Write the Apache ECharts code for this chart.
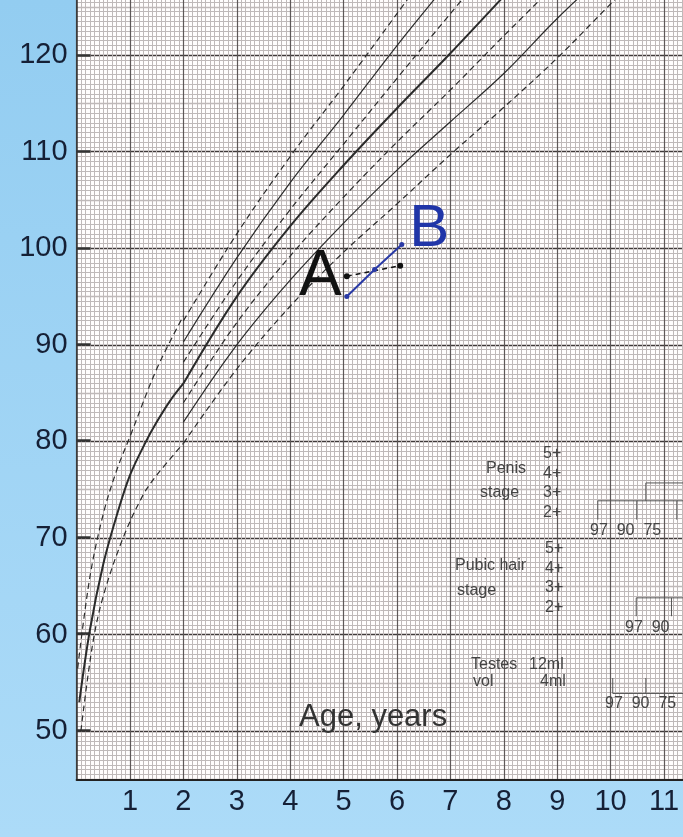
<!DOCTYPE html>
<html>
<head>
<meta charset="utf-8">
<script src="https://cdn.jsdelivr.net/npm/echarts@6/dist/echarts.min.js"></script>
<style>
html, body { margin: 0; padding: 0; }
#chart { width: 683px; height: 837px; }
</style>
</head>
<body>
<div id="chart"></div>
<script>
// length curves, birth to 2 years (age, cm)
var len97 = [[0.02, 56.5], [0.25, 66], [0.5, 72.5], [0.75, 77], [1, 80.5], [1.5, 87.5], [2, 93]];
var len50 = [[0.05, 53], [0.25, 60.5], [0.5, 67.3], [0.75, 72.3], [1, 76.5], [1.3, 80], [1.5, 82], [1.75, 84.2], [2, 86]];
var len3 = [[0.08, 50], [0.3, 59], [0.5, 64], [0.87, 70], [1.25, 74.5], [1.5, 76.5], [2, 79.8]];

// height curves from 2 years
var ht97 = [[2, 92.5], [3, 101.5], [4, 109.5], [5, 116.8], [6, 124.3], [6.4, 127.3]];
var ht90 = [[2, 90.3], [3, 99], [4, 106.8], [5, 113.8], [6, 121], [7, 127.8]];
var ht75 = [[2, 88.2], [3, 96.6], [4, 104], [5, 110.8], [6, 117.6], [7, 124.3], [7.5, 127.6]];
var ht50 = [[2, 86], [3, 95], [4, 102.3], [5, 108.6], [6, 114.5], [7, 120.2], [8, 126.1], [8.3, 127.9]];
var ht25 = [[2, 84], [3, 92.3], [4, 99.2], [5, 105.3], [6, 111], [7, 116.4], [8, 122], [9, 127.5]];
var ht10 = [[2, 82], [3, 90], [4, 96.7], [5, 102.6], [6, 108.1], [7, 113.1], [8, 118.1], [9, 123.8], [10, 129]];
var ht3 = [[2, 79.8], [3, 87.5], [4, 94], [5, 99.6], [6, 104.6], [7, 109.7], [8, 114.6], [9, 119.7], [10, 125.3], [10.5, 128]];

// the child's measurements
var measuredA = [[5.06, 97.1], [6.06, 98.2]];
var measuredB = [[5.06, 95.0], [5.58, 97.8], [6.09, 100.4]];

// puberty staging bars
var penisBar = [[9.76, 71.9], [9.76, 73.85], [12, 73.85]];
var penisBar2 = [[10.49, 71.9], [10.49, 73.85]];
var penisBar3 = [[11.24, 71.9], [11.24, 73.85]];
var penisBarUp = [[10.66, 73.85], [10.66, 75.7], [12, 75.7]];
var pubicBar = [[10.48, 61.9], [10.48, 63.8], [12, 63.8]];
var pubicBar2 = [[11.14, 61.9], [11.14, 63.8]];
var testesBar = [[10.04, 55.5], [10.04, 53.9], [12, 53.9]];
var testesBar2 = [[10.66, 55.5], [10.66, 53.9]];

var yTickLabels = [50, 60, 70, 80, 90, 100, 110, 120];
var xTickLabels = [1, 2, 3, 4, 5, 6, 7, 8, 9, 10, 11];

var ink = '#2b2b2b';
var note = '#444';
var font = 'Liberation Sans, Arial, sans-serif';
var minorGrid = '#bfb9b9';

function curve(data, dashed, width) {
  return {
    type: 'line',
    data: data,
    smooth: 0.35,
    showSymbol: false,
    silent: true,
    lineStyle: {
      color: ink,
      width: width || 1.2,
      type: dashed ? [6, 4] : 'solid'
    },
    z: 5
  };
}

function bar(data) {
  return {
    type: 'line',
    data: data,
    showSymbol: false,
    silent: true,
    lineStyle: { color: '#555', width: 1 },
    z: 4
  };
}

function note16(x, y, text) {
  return { type: 'text', left: x, top: y, z: 10, style: { text: text, font: '16px ' + font, fill: note, lineHeight: 19.5 } };
}

var myChart = echarts.init(document.getElementById('chart'));

var option = {
  backgroundColor: {
    type: 'linear', x: 0, y: 0, x2: 0, y2: 1,
    colorStops: [{ offset: 0, color: '#93cdf1' }, { offset: 1, color: '#acdbf8' }]
  },
  animation: false,
  grid: [{
    left: 76.6, right: -34.4, top: -41.4, bottom: 57.6,
    show: true, backgroundColor: '#fffdfd', borderWidth: 0,
    outerBoundsMode: 'none'
  }, {
    left: 76.6, right: -34.4, top: -41.4, bottom: 107,
    outerBoundsMode: 'none'
  }],
  xAxis: [{
    type: 'value', gridIndex: 0, min: 0, max: 12, interval: 1,
    axisLine: { show: true, onZero: false, lineStyle: { color: '#222', width: 2 } },
    axisTick: { show: false },
    axisLabel: {
      margin: 8, fontSize: 29, color: '#152036', fontFamily: font,
      formatter: function (v) { return xTickLabels.indexOf(v) >= 0 ? String(v) : ''; }
    },
    splitLine: { show: true, lineStyle: { color: '#5e5858', width: 1.2 } },
    minorTick: { show: false, splitNumber: 12 },
    minorSplitLine: { show: true, lineStyle: { color: minorGrid, width: 1 } }
  }, {
    type: 'value', gridIndex: 1, min: 0, max: 12, show: false
  }],
  yAxis: [{
    type: 'value', gridIndex: 0, min: 45, max: 130, interval: 5,
    axisLine: { show: true, lineStyle: { color: '#333', width: 1.5 } },
    axisTick: { show: false },
    axisLabel: {
      margin: 9, fontSize: 29, color: '#152036', fontFamily: font,
      formatter: function (v) { return yTickLabels.indexOf(v) >= 0 ? String(v) : ''; }
    },
    splitLine: { show: true, lineStyle: { color: [minorGrid, '#403a3a'], width: 1.3 } },
    minorTick: { show: false, splitNumber: 10 },
    minorSplitLine: { show: true, lineStyle: { color: minorGrid, width: 1 } }
  }, {
    type: 'value', gridIndex: 1, min: 50, max: 130, interval: 10,
    axisLine: { show: false },
    axisTick: { show: true, inside: true, length: 14, lineStyle: { color: '#333', width: 2.5 } },
    axisLabel: { show: false },
    splitLine: { show: false }
  }],
  series: [
    curve(len97, true), curve(len50, false, 2), curve(len3, true),
    curve(ht97, true), curve(ht90, false), curve(ht75, true), curve(ht50, false, 2),
    curve(ht25, true), curve(ht10, false), curve(ht3, true),
    bar(penisBar), bar(penisBar2), bar(penisBar3), bar(penisBarUp),
    bar(pubicBar), bar(pubicBar2), bar(testesBar), bar(testesBar2),
    {
      type: 'line', data: measuredA, silent: true, z: 8,
      lineStyle: { color: '#111', width: 1.5, type: [5, 4] },
      symbol: 'circle', symbolSize: 6, itemStyle: { color: '#111' },
      label: {
        show: true, fontSize: 64, fontFamily: font, color: '#111',
        formatter: function (p) { return p.dataIndex === 0 ? 'A' : ''; },
        position: 'left', distance: 2, offset: [0, 1]
      }
    },
    {
      type: 'line', data: measuredB, silent: true, z: 9,
      lineStyle: { color: '#2a3aa6', width: 2 },
      symbol: 'circle', symbolSize: 5, itemStyle: { color: '#2a3aa6' },
      label: {
        show: true, fontSize: 60, fontFamily: font, color: '#2035a8',
        formatter: function (p) { return p.dataIndex === 2 ? 'B' : ''; },
        position: 'right', distance: 5, offset: [0, -15]
      }
    }
  ],
  graphic: [
    { type: 'text', left: 299, top: 702, z: 10, style: { text: 'Age, years', font: '31px ' + font, fill: '#333' } },
    note16(486, 459, 'Penis'),
    note16(480, 483, 'stage'),
    note16(543, 444, '5+\n4+\n3+\n2+'),
    note16(455, 556, 'Pubic hair'),
    note16(457, 581, 'stage'),
    note16(545, 539, '5+\n4+\n3+\n2+'),
    note16(471, 655, 'Testes'),
    note16(473, 672, 'vol'),
    note16(529, 655, '12ml'),
    note16(540, 672, '4ml'),
    note16(590, 521, '97  90  75'),
    note16(625, 618, '97  90'),
    note16(605, 694, '97  90  75')
  ]
};

myChart.setOption(option, true);
</script>
</body>
</html>
